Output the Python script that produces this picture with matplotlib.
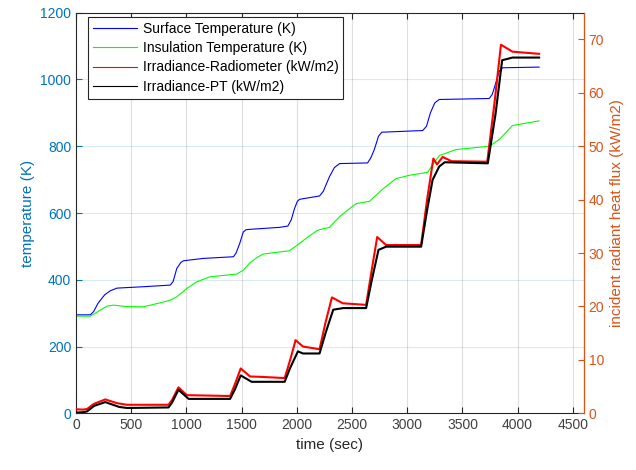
import matplotlib
matplotlib.use("Agg")
import matplotlib.pyplot as plt

plt.rcParams['font.family'] = ['Liberation Sans', 'DejaVu Sans']

# surface temperature (K)
t_surf = [0, 130, 160, 200, 260, 310, 371, 600, 853, 880, 913, 950, 974, 1154, 1426,
          1450, 1483, 1515, 1540, 1573, 1844, 1919, 1950, 1980, 2005, 2025, 2206, 2240,
          2296, 2340, 2387, 2641, 2670, 2702, 2740, 2770, 3140, 3175, 3210, 3250, 3290,
          3743, 3770, 3803, 3834, 3864, 4195]
T_surf = [295, 295, 305, 330, 355, 367, 375, 379, 384, 395, 434, 452, 457, 464, 469,
          480, 509, 543, 550, 551, 557, 561, 580, 614, 635, 641, 651, 665,
          709, 736, 748, 750, 765, 790, 830, 842, 847, 860, 900, 930, 940,
          943, 955, 990, 1025, 1035, 1037]

# insulation temperature (K)
t_ins = [0, 130, 200, 280, 341, 450, 612, 750, 853, 913, 1004, 1094, 1214, 1456,
         1516, 1573, 1636, 1694, 1935, 2056, 2176, 2206, 2296, 2387, 2508, 2538,
         2658, 2779, 2899, 3020, 3186, 3231, 3291, 3442, 3743, 3834, 3954, 4195]
T_ins = [291, 291, 305, 321, 324, 320, 319, 330, 339, 349, 374, 394, 409, 417,
         429, 450, 466, 477, 487, 517, 546, 550, 557, 589, 621, 628,
         635, 672, 703, 713, 722, 745, 772, 790, 800, 820, 862, 876]

# irradiance, radiometer (kW/m2)
t_rad = [0, 60, 100, 160, 265, 371, 461, 838, 870, 928, 1004, 1396, 1440, 1492,
         1576, 1700, 1890, 1940, 1989, 2056, 2206, 2260, 2318, 2417, 2628, 2680,
         2728, 2809, 3126, 3180, 3237, 3270, 3321, 3400, 3725, 3790, 3849, 3954, 4195]
q_rad = [0.75, 0.7, 0.8, 1.75, 2.6, 1.9, 1.6, 1.6, 2.5, 4.86, 3.4, 3.24, 5.5, 8.4,
         6.9, 6.8, 6.6, 10.0, 13.7, 12.5, 12.0, 17.0, 21.7, 20.6, 20.3, 27.0,
         33.0, 31.5, 31.5, 40.0, 47.7, 46.6, 48.0, 47.2, 47.1, 58.0, 69.0, 67.7, 67.3]

# irradiance, PT (kW/m2)
t_pt = [0, 60, 100, 165, 265, 390, 461, 838, 870, 928, 1020, 1396, 1440, 1492,
        1590, 1890, 1940, 2010, 2056, 2206, 2260, 2330, 2420, 2628, 2680, 2740,
        2809, 3126, 3180, 3230, 3290, 3340, 3730, 3800, 3860, 3954, 4195]
q_pt = [0.14, 0.2, 0.35, 1.4, 2.1, 1.2, 1.0, 1.1, 2.0, 4.4, 2.7, 2.7, 4.5, 7.1,
        5.9, 5.9, 8.5, 11.6, 11.2, 11.2, 15.0, 19.4, 19.7, 19.7, 25.0, 30.6,
        31.2, 31.2, 38.0, 43.7, 46.2, 47.0, 46.8, 56.0, 66.1, 66.6, 66.6]

left_ticks = [0, 200, 400, 600, 800, 1000, 1200]
right_ticks = [0, 10, 20, 30, 40, 50, 60, 70]
x_ticks = [0, 500, 1000, 1500, 2000, 2500, 3000, 3500, 4000, 4500]

blue_ax = '#0072BD'
orange_ax = '#D95319'
dark = '#262626'

fig = plt.figure(figsize=(6.36, 4.70), dpi=100)
ax = fig.add_axes([0.1195, 0.1206, 0.7985, 0.8524])
ax2 = ax.twinx()

l1, = ax.plot(t_surf, T_surf, color='#0000ff', lw=0.8, label='Surface Temperature (K)')
l2, = ax.plot(t_ins, T_ins, color='#00ff00', lw=0.8, label='Insulation Temperature (K)')
l3, = ax2.plot(t_rad, q_rad, color='#ff0000', lw=1.5, label='Irradiance-Radiometer (kW/m2)')
l4, = ax2.plot(t_pt, q_pt, color='#000000', lw=1.5, label='Irradiance-PT (kW/m2)')

ax.set_xlim(0, 4600)
ax.set_ylim(0, 1200)
ax2.set_ylim(0, 75)
ax.set_xticks(x_ticks)
ax.set_yticks(left_ticks)
ax2.set_yticks(right_ticks)

for x in x_ticks[1:]:
    ax.axvline(x, color=dark, alpha=0.15, lw=0.8, zorder=0)
for y in left_ticks[1:-1]:
    ax.axhline(y, color=blue_ax, alpha=0.15, lw=0.8, zorder=0)

ax.tick_params(axis='x', direction='in', top=True, colors=dark, labelsize=10, length=4)
ax.tick_params(axis='x', labelcolor='#404040')
ax.tick_params(axis='y', direction='in', colors=blue_ax, labelsize=10, length=4)
ax2.tick_params(axis='y', direction='in', colors=orange_ax, labelsize=10, length=4)

ax.spines['left'].set_color(dark)
ax.spines['bottom'].set_color(dark)
ax.spines['top'].set_color(dark)
ax2.spines['right'].set_color(orange_ax)
ax2.spines['left'].set_visible(False)
ax2.spines['top'].set_visible(False)
ax2.spines['bottom'].set_visible(False)

ax.set_xlabel('time (sec)', fontsize=11, color=dark)
ax.set_ylabel('temperature (K)', fontsize=11, color=blue_ax)
ax2.set_ylabel('incident radiant heat flux (kW/m2)', fontsize=11, color=orange_ax)

leg = ax2.legend(handles=[l1, l2, l3, l4], loc='upper left',
                 bbox_to_anchor=(88 / 636, 1 - 17 / 470), bbox_transform=fig.transFigure,
                 borderaxespad=0, fancybox=False, framealpha=1, edgecolor=dark,
                 fontsize=10, handlelength=3.2, handletextpad=0.4,
                 labelspacing=0.38, borderpad=0.35)
leg.get_frame().set_linewidth(0.8)
for ln in leg.get_lines():
    ln.set_linewidth(0.8)

fig.savefig('out.png', dpi=100)
